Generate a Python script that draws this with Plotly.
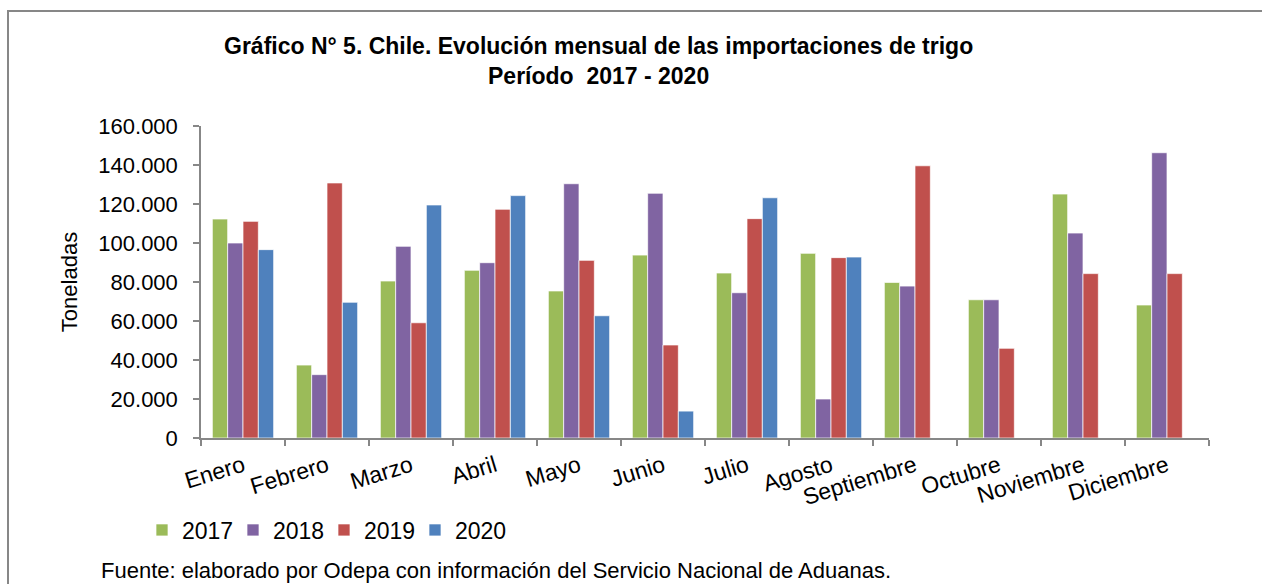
import plotly.graph_objects as go

meses = ["Enero", "Febrero", "Marzo", "Abril", "Mayo", "Junio", "Julio",
         "Agosto", "Septiembre", "Octubre", "Noviembre", "Diciembre"]

v2017 = [112300, 37400, 80500, 86000, 75400, 93800, 84600, 94700, 79800, 70900, 125100, 68200]
v2018 = [100000, 32500, 98300, 89900, 130400, 125500, 74500, 20000, 77900, 70900, 105100, 146300]
v2019 = [111100, 130800, 59100, 117300, 91100, 47700, 112500, 92500, 139600, 46000, 84300, 84300]
v2020 = [96600, 69600, 119500, 124300, 62700, 13800, 123200, 92800, None, None, None, None]

series = [("2017", v2017, "#9BBB59"), ("2018", v2018, "#8064A2"),
          ("2019", v2019, "#C0504D"), ("2020", v2020, "#4F81BD")]

FONT = "Liberation Sans, Arial, sans-serif"
W, H = 1262, 584
L, R, T, B = 201, 53, 126, 146
PW, PH = W - L - R, H - T - B

def px(x):
    return (x - L) / PW

def py(y):
    return (H - B - y) / PH

fig = go.Figure()
for name, vals, col in series:
    fig.add_trace(go.Bar(
        name=name, x=meses, y=vals,
        marker=dict(color=col, line=dict(color="rgba(255,255,255,0.7)", width=1)),
    ))

fig.update_layout(
    width=W, height=H,
    margin=dict(l=L, r=R, t=T, b=B, autoexpand=False),
    paper_bgcolor="white", plot_bgcolor="white",
    font=dict(family=FONT, size=22, color="black"),
    separators=",.",
    barmode="group", bargap=0.27, bargroupgap=0,
    showlegend=True,
    legend=dict(orientation="h", x=px(142), y=py(530), xanchor="left", yanchor="middle",
                font=dict(size=23), entrywidth=46, entrywidthmode="pixels",
                itemwidth=30, bgcolor="rgba(0,0,0,0)", tracegroupgap=0),
    xaxis=dict(
        type="category", showline=True, linecolor="#878787", linewidth=1.5,
        ticks="outside", tickson="boundaries", ticklen=6, tickcolor="#878787",
        tickwidth=1.5, tickangle=-17, showgrid=False,
        tickfont=dict(size=23), ticklabelstandoff=4,
    ),
    yaxis=dict(
        range=[0, 160000], dtick=20000, tickformat=",d",
        showline=True, linecolor="#878787", linewidth=1.5,
        ticks="outside", ticklen=6, tickcolor="#878787", tickwidth=1.5,
        showgrid=False, zeroline=False, tickfont=dict(size=22),
        ticklabelstandoff=11,
        title=dict(text="Toneladas", font=dict(size=22), standoff=15),
    ),
    annotations=[
        dict(text="<b>Gráfico N° 5. Chile. Evolución mensual de las importaciones de trigo<br>Período  2017 - 2020</b>",
             xref="paper", yref="paper", x=px(598), y=py(61), xanchor="center", yanchor="middle",
             showarrow=False, font=dict(size=23, family=FONT), align="center"),
        dict(text="Fuente: elaborado por Odepa con información del Servicio Nacional de Aduanas.",
             xref="paper", yref="paper", x=px(99), y=py(570), xanchor="left", yanchor="middle",
             showarrow=False, font=dict(size=22, family=FONT)),
    ],
    shapes=[
        dict(type="rect", xref="paper", yref="paper",
             x0=px(8), x1=px(1275), y0=py(11), y1=py(600),
             line=dict(color="#878787", width=2), fillcolor="rgba(0,0,0,0)", layer="below"),
    ],
)

fig.write_html("out.html", config={"displayModeBar": False},
               post_script="document.body.style.margin='0';document.body.style.overflow='hidden';")
